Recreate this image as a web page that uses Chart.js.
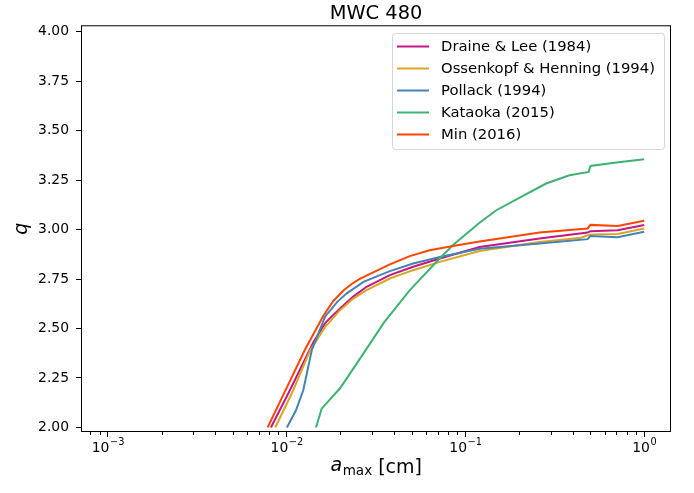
<!DOCTYPE html>
<html>
<head>
<meta charset="utf-8">
<script src="https://cdn.jsdelivr.net/npm/chart.js@4.4.0/dist/chart.umd.min.js"></script>
<style>
  html, body { margin: 0; padding: 0; background: #fff; }
</style>
</head>
<body>
<canvas id="chart" width="694" height="493"></canvas>
<script>
// grain size a_max (cm) and slope q
const draineX = [0.00817, 0.01023, 0.01416, 0.0165, 0.0199, 0.0235, 0.028, 0.0378, 0.051, 0.072, 0.12, 0.26, 0.483, 0.5, 0.71, 1.0];
const draineY = [2.0, 2.173, 2.433, 2.53, 2.602, 2.66, 2.711, 2.770, 2.812, 2.854, 2.912, 2.955, 2.985, 2.992, 2.997, 3.023];

const ossenX = [0.00864, 0.0107, 0.01355, 0.0165, 0.0199, 0.0235, 0.028, 0.0378, 0.051, 0.072, 0.12, 0.26, 0.443, 0.5, 0.71, 1.0];
const ossenY = [2.0, 2.173, 2.391, 2.51, 2.593, 2.65, 2.694, 2.753, 2.795, 2.837, 2.892, 2.938, 2.959, 2.976, 2.978, 3.006];

const pollackX = [0.01004, 0.0113, 0.0124, 0.01384, 0.0164, 0.0192, 0.0217, 0.0269, 0.0378, 0.051, 0.072, 0.12, 0.26, 0.483, 0.5, 0.71, 1.0];
const pollackY = [2.0, 2.088, 2.189, 2.391, 2.56, 2.635, 2.678, 2.736, 2.79, 2.829, 2.862, 2.903, 2.93, 2.952, 2.968, 2.962, 2.989];

const kataokaX = [0.0146, 0.0157, 0.0199, 0.0264, 0.035, 0.0489, 0.072, 0.0853, 0.12, 0.149, 0.2, 0.283, 0.382, 0.489, 0.5, 0.7, 1.0];
const kataokaY = [2.0, 2.095, 2.198, 2.363, 2.53, 2.694, 2.855, 2.922, 3.035, 3.098, 3.16, 3.233, 3.275, 3.292, 3.322, 3.339, 3.356];

const minX = [0.00783, 0.00982, 0.0127, 0.01606, 0.0182, 0.0208, 0.023, 0.0258, 0.0333, 0.0378, 0.0489, 0.0631, 0.0853, 0.12, 0.26, 0.483, 0.5, 0.71, 1.0];
const minY = [2.0, 2.185, 2.395, 2.565, 2.638, 2.692, 2.724, 2.752, 2.8, 2.824, 2.866, 2.896, 2.917, 2.94, 2.986, 3.006, 3.024, 3.018, 3.045];

const names = ['Draine & Lee (1984)', 'Ossenkopf & Henning (1994)', 'Pollack (1994)', 'Kataoka (2015)', 'Min (2016)'];
const colours = ['#c71585', '#daa520', '#4682b4', '#3cb371', '#ff4500'];

const xMajor = [0.001, 0.01, 0.1, 1];
const xExp = ['\u22123', '\u22122', '\u22121', '0'];
const xMinor = [0.0008, 0.0009, 0.002, 0.003, 0.004, 0.005, 0.006, 0.007, 0.008, 0.009,
                0.02, 0.03, 0.04, 0.05, 0.06, 0.07, 0.08, 0.09,
                0.2, 0.3, 0.4, 0.5, 0.6, 0.7, 0.8, 0.9];
const yTicks = [2.0, 2.25, 2.5, 2.75, 3.0, 3.25, 3.5, 3.75, 4.0];

function pts(xs, ys){
    return xs.map((x, i) => ({x: x, y: ys[i]}));
}

const series = [[draineX, draineY], [ossenX, ossenY], [pollackX, pollackY], [kataokaX, kataokaY], [minX, minY]];
const datasets = series.map((s, i) => ({
    label: names[i],
    data: pts(s[0], s[1]),
    borderColor: colours[i],
    backgroundColor: colours[i],
    borderWidth: 2,
    pointRadius: 0,
    showLine: true,
    fill: false,
    order: 5 - i
}));

const frame = {
    id: 'frame',
    afterDraw(chart){
        const ctx = chart.ctx;
        const a = chart.chartArea;
        const xs = chart.scales.x;
        ctx.save();
        // minor ticks on the log axis
        ctx.strokeStyle = '#000';
        ctx.lineWidth = 1;
        ctx.beginPath();
        xMinor.forEach(v => {
            const px = Math.round(xs.getPixelForValue(v)) + 0.5;
            ctx.moveTo(px, a.bottom);
            ctx.lineTo(px, a.bottom + 3);
        });
        ctx.stroke();
        // spines
        ctx.strokeRect(a.left + 0.5, a.top + 0.5, a.right - a.left - 1, a.bottom - a.top - 1);

        ctx.fillStyle = '#000';
        ctx.textBaseline = 'alphabetic';
        ctx.textAlign = 'left';
        // x tick labels as 10 with a raised exponent
        xMajor.forEach((v, i) => {
            const px = xs.getPixelForValue(v);
            ctx.font = '13.9px "DejaVu Sans"';
            const w1 = ctx.measureText('10').width;
            ctx.font = '9.8px "DejaVu Sans"';
            const w2 = ctx.measureText(xExp[i]).width;
            const x0 = px - (w1 + w2) / 2;
            ctx.font = '13.9px "DejaVu Sans"';
            ctx.fillText('10', x0, 452);
            ctx.font = '9.8px "DejaVu Sans"';
            ctx.fillText(xExp[i], x0 + w1 + 0.5, 445);
        });

        // axis labels
        ctx.textBaseline = 'middle';
        const big = 19;
        ctx.font = 'italic ' + big + 'px "DejaVu Sans"';
        const wa = ctx.measureText('a').width;
        ctx.font = '13.5px "DejaVu Sans"';
        const wm = ctx.measureText('max').width;
        ctx.font = big + 'px "DejaVu Sans"';
        const wc = ctx.measureText(' [cm]').width;
        let x0 = (a.left + a.right) / 2 - (wa + wm + wc) / 2;
        const yl = 468;
        ctx.font = 'italic ' + big + 'px "DejaVu Sans"';
        ctx.fillText('a', x0, yl - 2);
        ctx.font = '13.5px "DejaVu Sans"';
        ctx.fillText('max', x0 + wa + 0.5, yl + 3);
        ctx.font = big + 'px "DejaVu Sans"';
        ctx.fillText(' [cm]', x0 + wa + wm + 0.5, yl);

        ctx.translate(22, (a.top + a.bottom) / 2);
        ctx.rotate(-Math.PI / 2);
        ctx.textAlign = 'center';
        ctx.font = 'italic ' + big + 'px "DejaVu Sans"';
        ctx.fillText('q', 0, 0);
        ctx.restore();

        // legend
        ctx.save();
        ctx.fillStyle = 'rgba(255,255,255,0.8)';
        ctx.strokeStyle = 'rgba(204,204,204,0.8)';
        ctx.lineWidth = 1;
        ctx.beginPath();
        ctx.roundRect(392.5, 33.5, 272, 116, 3);
        ctx.fill();
        ctx.stroke();
        ctx.font = '14.8px "DejaVu Sans"';
        ctx.textAlign = 'left';
        ctx.textBaseline = 'middle';
        names.forEach((n, i) => {
            const y = 46.5 + i * 22;
            ctx.strokeStyle = colours[i];
            ctx.lineWidth = 2;
            ctx.beginPath();
            ctx.moveTo(397, y);
            ctx.lineTo(429, y);
            ctx.stroke();
            ctx.fillStyle = '#000';
            ctx.fillText(n, 441, y + 1);
        });
        ctx.restore();
    }
};

new Chart(document.getElementById('chart'), {
    type: 'scatter',
    data: { datasets: datasets },
    plugins: [frame],
    options: {
        responsive: false,
        animation: false,
        devicePixelRatio: 1,
        layout: { padding: { left: 0, right: 23, top: 0, bottom: 0 } },
        scales: {
            x: {
                type: 'logarithmic',
                min: Math.pow(10, -3.15),
                max: Math.pow(10, 0.15),
                afterBuildTicks: s => { s.ticks = xMajor.map(v => ({value: v, major: true})); },
                afterFit: s => { s.height = 61; },
                ticks: {
                    display: false
                },
                grid: { drawOnChartArea: false, drawTicks: true, tickLength: 5, tickColor: '#000', tickWidth: 1 },
                border: { display: false }
            },
            y: {
                min: 1.977,
                max: 4.033,
                afterBuildTicks: s => { s.ticks = yTicks.map(v => ({value: v})); },
                afterFit: s => { s.width = 81; },
                ticks: {
                    callback: v => v.toFixed(2),
                    color: '#000',
                    font: { family: 'DejaVu Sans', size: 13.9 },
                    padding: 7
                },
                grid: { drawOnChartArea: false, drawTicks: true, tickLength: 5, tickColor: '#000', tickWidth: 1 },
                border: { display: false }
            }
        },
        plugins: {
            legend: { display: false },
            tooltip: { enabled: false },
            title: {
                display: true,
                text: 'MWC 480',
                fullSize: false,
                color: '#000',
                font: { family: 'DejaVu Sans', size: 19.4, weight: 'normal' },
                padding: { top: 2, bottom: 0 }
            }
        }
    }
});
</script>
</body>
</html>
